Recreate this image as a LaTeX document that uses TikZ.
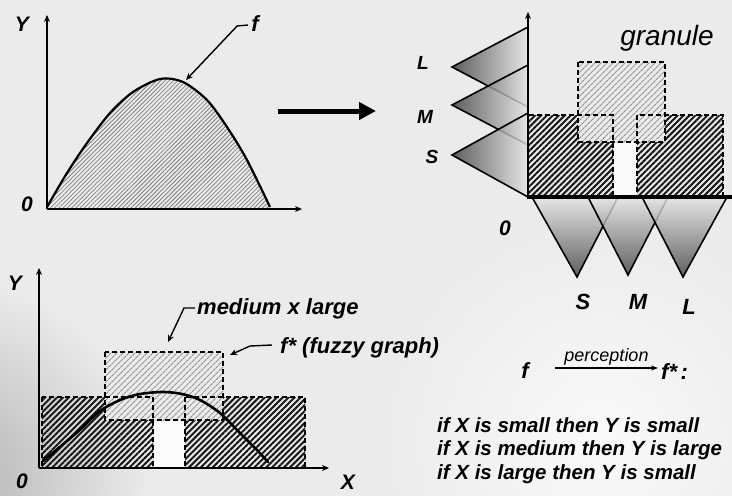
\documentclass[tikz,border=0pt]{standalone}
\usepackage{fontspec}
\setmainfont{Liberation Sans}
\usetikzlibrary{patterns.meta,arrows.meta}
\definecolor{bg}{RGB}{235,235,235}
\begin{document}
\begin{tikzpicture}[x=1pt,y=-1pt,
  lbl/.style={font=\bfseries\itshape\fontsize{21}{21}\selectfont, inner sep=0pt},
  lblbig/.style={font=\bfseries\itshape\fontsize{22}{22}\selectfont, inner sep=0pt},
  lblsm/.style={font=\bfseries\itshape\fontsize{19}{19}\selectfont, inner sep=0pt},
  rulebox/.style={font=\bfseries\itshape\fontsize{20.5}{20.5}\selectfont, inner sep=0pt, anchor=west},
  axis/.style={line width=1.6pt, -{Stealth[length=7pt,width=6pt]}},
  leader/.style={line width=1.4pt, -{Stealth[length=7pt,width=6pt]}},
  darkhatch/.style={pattern={Lines[angle=45,distance=4.2pt,line width=2pt]}, pattern color=black!90},
  lighthatch/.style={pattern={Lines[angle=45,distance=4pt,line width=1.1pt]}, pattern color=black!42},
  finehatch/.style={pattern={Lines[angle=45,distance=3pt,line width=0.8pt]}, pattern color=black!50},
  dashbox/.style={line width=1.3pt, dash pattern=on 5pt off 3pt},
  tri/.style={line width=1.6pt, draw=black, fill opacity=0.82},
]
\useasboundingbox (0,0) rectangle (732,496);
\clip (0,0) rectangle (732,496);
% background
\fill[bg] (0,0) rectangle (732,496);
\shade[inner color=white!75!bg, outer color=bg] (600,440) circle (220);
\shade[inner color=black!30, outer color=bg] (-50,480) circle (200);

% ---------------- top-left graph ----------------
\path[finehatch] plot[smooth] coordinates {(47,208) (67,173) (87,143) (110,113) (133,92) (160,79) (183,82) (207,100) (227,127) (247,160) (270,208)} -- cycle;
\draw[line width=2.2pt] plot[smooth] coordinates {(47,207) (67,173) (87,143) (110,113) (133,92) (160,79) (183,82) (207,100) (227,127) (247,160) (270,207)};
\draw[axis] (47,209) -- (47,15);
\draw[axis] (47,209) -- (302,209);
\node[lbl] (y1) at (22,24) {Y};
\node[lbl] (o1) at (27,204) {0};
\node[lblbig] (f1) at (255,24) {f};
\coordinate (fa) at (186,80);
\draw[leader] (f1.west) ++(-3,1) -- ++(-11,1) -- (fa);

% big arrow
\coordinate (ba) at (278,111);
\coordinate (bb) at (376,111);
\draw[line width=5pt, -{Triangle[length=17pt,width=17pt]}] (ba) -- (bb);

% ---------------- top-right granule graph ----------------
\path[darkhatch] (528,115) rectangle (613,197);
\path[darkhatch] (637,115) rectangle (723,197);
\fill[bg] (578,62) rectangle (665,142);
\path[lighthatch] (578,62) rectangle (665,142);
\fill[white!70!bg] (614,143) rectangle (636,196);
\draw[dashbox] (528,115) rectangle (613,197);
\draw[dashbox] (637,115) rectangle (723,197);
\draw[dashbox] (578,62) rectangle (665,142);
% left triangles
\shade[tri, left color=black!75, right color=black!10] (528,27) -- (452,67) -- (528,107) -- cycle;
\shade[tri, left color=black!75, right color=black!10] (528,65) -- (452,105) -- (528,145) -- cycle;
\shade[tri, left color=black!75, right color=black!10] (528,113) -- (452,155) -- (528,197) -- cycle;
% bottom triangles
\shade[tri, top color=black!10, bottom color=black!75] (532,197) -- (618,197) -- (577,277) -- cycle;
\shade[tri, top color=black!10, bottom color=black!75] (588,197) -- (668,197) -- (628,275) -- cycle;
\shade[tri, top color=black!10, bottom color=black!75] (642,197) -- (727,197) -- (683,277) -- cycle;
\draw[line width=3.2pt] (527,197) -- (740,197);
\draw[axis] (528,198) -- (528,12);
\node[font=\itshape\fontsize{28}{28}\selectfont, inner sep=0pt] (gran) at (667,38) {granule};
\node[lblsm] (tl) at (423,63) {L};
\node[lblsm] (tm) at (425,117) {M};
\node[lblsm] (ts) at (432,157) {S};
\node[lbl] (o2) at (505,228) {0};
\node[lblbig] (bs) at (583,302) {S};
\node[lblbig] (bm) at (638,302) {M};
\node[lblbig] (bl) at (689,307) {L};

% ---------------- bottom-left fuzzy graph ----------------
\path[darkhatch] (42,397) rectangle (153,468);
\path[darkhatch] (185,397) rectangle (305,468);
\fill[bg] (105,352) rectangle (223,420);
\path[lighthatch] (105,352) rectangle (223,420);
\fill[white!80!bg] (154,421) rectangle (184,467);
\draw[dashbox] (42,397) rectangle (153,468);
\draw[dashbox] (185,397) rectangle (305,468);
\draw[dashbox] (105,352) rectangle (223,420);
\draw[line width=2.6pt, line cap=round] plot[smooth] coordinates {(43,461) (67,441) (83,427) (100,411) (120,400) (140,394) (163,392) (182,394) (200,400) (220,413) (240,433) (257,450) (268,462)};
\draw[axis] (39,468) -- (39,268);
\draw[axis] (39,468) -- (329,468);
\node[lbl] (y3) at (15,283) {Y};
\node[lbl] (o3) at (22,481) {0};
\node[lbl] (x3) at (348,482) {X};
\node[lblbig, anchor=west] (med) at (197,309) {medium x large};
\coordinate (ma) at (168,342);
\draw[leader] (med.west) ++(-2,-1) -- ++(-11,0) -- (ma);
\node[lblbig, anchor=west] (fz) at (280,348) {f* (fuzzy graph)};
\coordinate (fza) at (230,355);
\draw[leader] (fz.west) ++(-8,-3) -- ++(-22,1) -- (fza);

% ---------------- perception ----------------
\node[lblbig] (pf) at (525,371) {f};
\node[lblbig, anchor=west] (pfs) at (661,372) {f*\,:};
\coordinate (pa) at (555,368);
\coordinate (pb) at (658,368);
\draw[line width=1.4pt, -{Stealth[length=7pt,width=5pt]}] (pa) -- (pb)
  node[midway, above=2pt, font=\itshape\fontsize{18}{18}\selectfont, inner sep=0pt] (perc) {perception};

\node[rulebox] (r1) at (437,425) {if X is small then Y is small};
\node[rulebox] (r2) at (437,450) {if X is medium then Y is large};
\node[rulebox] (r3) at (437,474) {if X is large then Y is small};
\end{tikzpicture}
\end{document}
